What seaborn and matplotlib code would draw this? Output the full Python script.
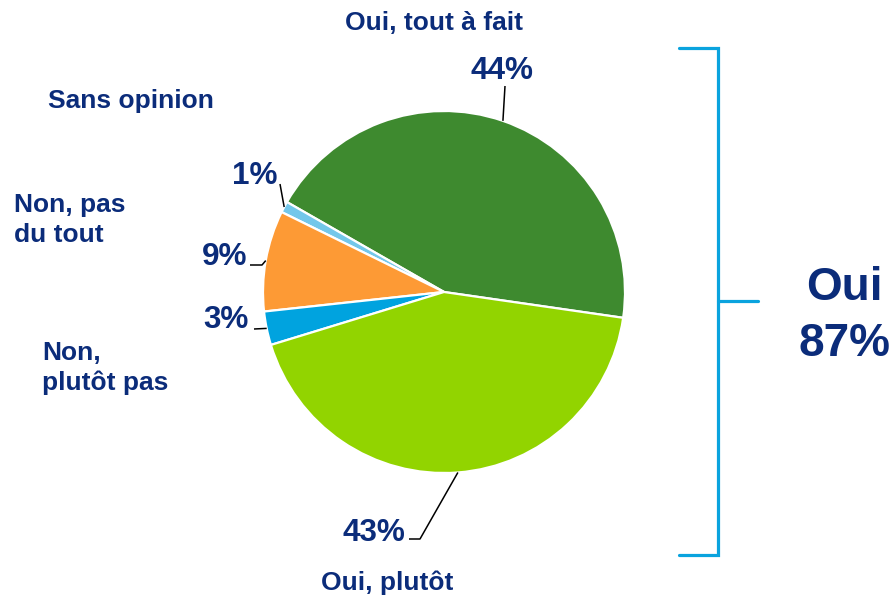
import numpy as np
import matplotlib
matplotlib.use("Agg")
import matplotlib.pyplot as plt
import seaborn as sns

# data, in drawing order (counter-clockwise from the right)
categories = ["Oui, tout à fait", "Sans opinion", "Non, pas du tout", "Non, plutôt pas", "Oui, plutôt"]
values = [44, 1, 9, 3, 43]
pct_labels = ["44%", "1%", "9%", "3%", "43%"]
total_label = ["Oui", "87%"]

colors = ["#3E8A2F", "#73C7EA", "#FD9A35", "#00A3DF", "#92D400"]
NAVY = "#0B2C7A"
BRACKET = "#0AA3DE"

W, H = 894, 597


def Y(y):
    # pixel row -> axes y
    return H - y


sns.set_theme(style="white")
plt.rcParams["font.family"] = ["Liberation Sans", "DejaVu Sans"]

fig = plt.figure(figsize=(W / 100, H / 100), dpi=100)
ax = fig.add_axes([0, 0, 1, 1])

cx, cy, r = 444, Y(292), 181
start = -8.2
wedges, _ = ax.pie(values, colors=colors, startangle=start, counterclock=True,
                   center=(cx, cy), radius=r,
                   wedgeprops=dict(edgecolor="white", linewidth=1.6))
ax.set_xlim(0, W)
ax.set_ylim(0, H)
ax.set_aspect("equal")
ax.axis("off")

# percentage labels with leader lines from the middle of each wedge
pct_pos = [(502, 79, "center"), (277, 184, "right"), (247, 265, "right"),
           (249, 328, "right"), (405, 541, "right")]
elbows = [[(505, 86)], [(280, 184)], [(262, 265), (250, 265)],
          [(254, 329)], [(420, 539), (409, 539)]]
for w, lab, (tx, ty, ha), elb in zip(wedges, pct_labels, pct_pos, elbows):
    mid = np.deg2rad((w.theta1 + w.theta2) / 2)
    px, py = cx + r * np.cos(mid), cy + r * np.sin(mid)
    xs = [px] + [e[0] for e in elb]
    ys = [py] + [Y(e[1]) for e in elb]
    ax.plot(xs, ys, color="black", lw=1.1, solid_capstyle="butt")
    ax.text(tx, Y(ty), lab, ha=ha, va="baseline", fontsize=22.7,
            fontweight="bold", color=NAVY)

# category labels
cat_pos = [(434, [30], "center"), (48, [108], "left"), (14, [212, 242], "left"),
           (42, [360, 390], "left"), (387, [590], "center")]
cat_lines = [["Oui, tout à fait"], ["Sans opinion"], ["Non, pas", "du tout"],
             ["Non,", "plutôt pas"], ["Oui, plutôt"]]
for (tx, tys, ha), lines in zip(cat_pos, cat_lines):
    for ty, line in zip(tys, lines):
        ax.text(tx, Y(ty), line, ha=ha, va="baseline", fontsize=19,
                fontweight="bold", color=NAVY)

# bracket for the "Oui" total
bx = 718
ax.plot([679, bx, bx, 679], [Y(48), Y(48), Y(555), Y(555)], color=BRACKET,
        lw=2.3, solid_joinstyle="miter")
ax.plot([bx, 758], [Y(301), Y(301)], color=BRACKET, lw=2.3)
for ty, line in zip([300, 356], total_label):
    ax.text(844, Y(ty), line, ha="center", va="baseline", fontsize=33,
            fontweight="bold", color=NAVY)

fig.savefig("out.png", dpi=100, facecolor="white")
